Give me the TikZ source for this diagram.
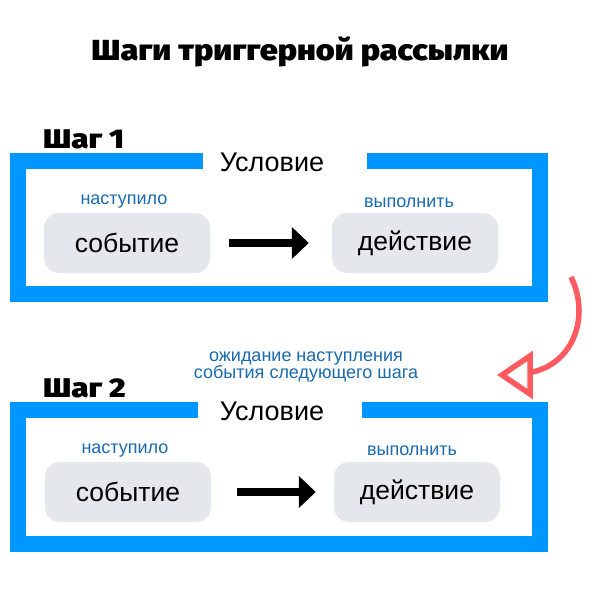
\documentclass[tikz,border=0pt]{standalone}
\usepackage{fontspec}
\setmainfont{Liberation Sans}
\IfFontExistsTF{Fira Sans Black}{\newfontfamily\heavyfont{Fira Sans Black}}{%
  \IfFontExistsTF{Lato Black}{\newfontfamily\heavyfont{Lato Black}}{\newfontfamily\heavyfont{Liberation Sans Bold}}}
\usetikzlibrary{arrows.meta}
\definecolor{frameblue}{HTML}{0096FF}
\definecolor{textblue}{HTML}{1A6AAE}
\definecolor{boxgray}{HTML}{E4E7EC}
\definecolor{arrred}{HTML}{FF5A5F}
\tikzset{
  frame/.style={draw=frameblue, line width=16pt, line join=miter, line cap=butt},
  pill/.style={fill=boxgray, rounded corners=15pt, minimum width=166pt, minimum height=60pt, inner sep=0pt, font=\fontsize{26.5}{30}\selectfont},
  cond/.style={font=\fontsize{27}{30}\selectfont, inner sep=0pt},
  small/.style={text=textblue, font=\fontsize{18}{20}\selectfont, inner sep=0pt},
  steplabel/.style={font=\heavyfont\fontsize{27}{28}\selectfont, inner sep=0pt, xscale=1.16},
  bigarrow/.style={line width=8pt, -{Triangle[length=17pt,width=31pt]}},
}
\begin{document}
\begin{tikzpicture}[x=1pt,y=-1pt]
\useasboundingbox (0,0) rectangle (600,600);
\fill[white] (0,0) rectangle (600,600);
% title
\node[font=\heavyfont\fontsize{29}{30}\selectfont, inner sep=0pt, xscale=1.114] (title) at (300,52) {Шаги триггерной рассылки};
% step 1
\node[steplabel, anchor=west] (s1) at (43,139) {Шаг 1};
\draw[frame] (203,161) -- (18,161) -- (18,294) -- (540,294) -- (540,161) -- (367,161);
\node[cond] (c1) at (272,162) {Условие};
\node[small] (n1) at (124,202) {наступило};
\node[small] (v1) at (409,203) {выполнить};
\node[pill] (e1) at (127,243) {событие};
\node[pill] (a1) at (415,243) {действие};
\draw[bigarrow, shorten <=19pt, shorten >=23pt] (e1.east) -- (a1.west);
% waiting text
\node[small, align=center, font=\fontsize{18}{15.5}\selectfont] (wait) at (306,367) {ожидание наступления\\события следующего шага};
% red arrow
\coordinate (rs) at (571,277);
\coordinate (re) at (528,373);
\draw[arrred, line width=5.5pt] (rs) .. controls (590,315) and (575,365) .. (re);
\draw[arrred, line width=5.5pt, fill=white, line join=miter] (502,375) -- (530,356) -- (530,394) -- cycle;
% step 2
\node[steplabel, anchor=west] (s2) at (43,388) {Шаг 2};
\draw[frame] (198,410) -- (18,410) -- (18,544) -- (540,544) -- (540,410) -- (362,410);
\node[cond] (c2) at (272,411) {Условие};
\node[small] (n2) at (125,451) {наступило};
\node[small] (v2) at (412,451) {выполнить};
\node[pill] (e2) at (128,492) {событие};
\node[pill] (a2) at (417,492) {действие};
\draw[bigarrow, shorten <=26pt, shorten >=18pt] (e2.east) -- (a2.west);
\end{tikzpicture}
\end{document}
